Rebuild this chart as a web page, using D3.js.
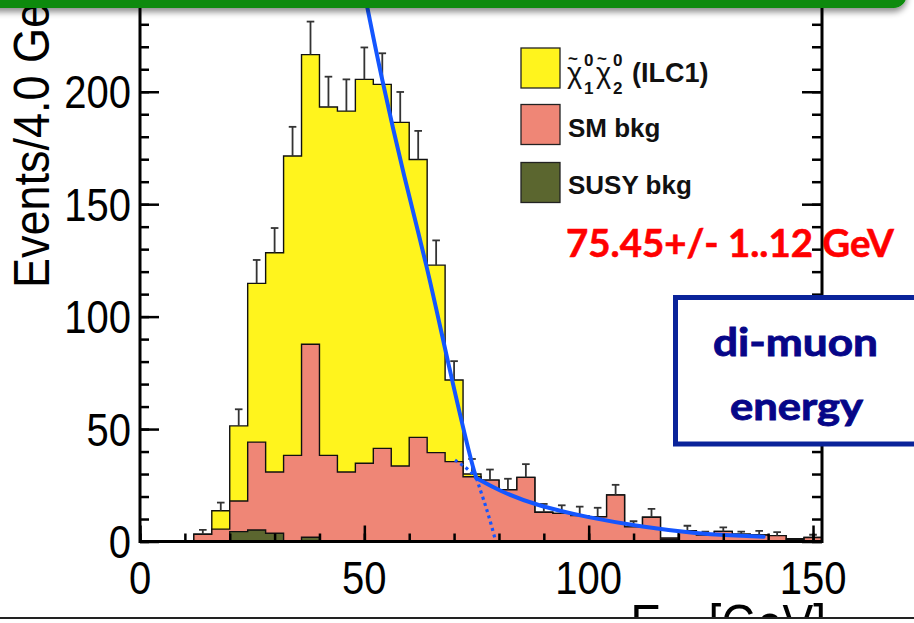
<!DOCTYPE html>
<html><head><meta charset="utf-8">
<script src="https://cdn.jsdelivr.net/npm/d3@7/dist/d3.min.js"></script>
<style>html,body{margin:0;padding:0;background:#fff;overflow:hidden}</style>
</head><body>
<svg id="c" width="914" height="623"></svg>
<script>
// ---------------- data ----------------
const binLow = [0,4,8,12,16,20,24,28,32,36,40,44,48,52,56,60,64,68,72,76,80,84,88,92,96,100,104,108,112,116,120,124,128,132,136,140,144,148];
const binWidth = 4;
const signal = [0,0,0,0,8.2,33.4,70.6,97.5,133.1,128.8,154.9,160.5,170.7,161.9,152.8,123.6,83.4,36.3,1.2,0,0,0,0,0,0,0,0,0,0,0,0,0,0,0,0,0,0,0];
const smBkg  = [0,0,0,3.2,5.5,13.6,39.1,27.2,38.3,85.8,38.3,30.9,34.8,41.4,33.6,46.3,39.5,35.5,28.8,27.3,23.0,28.5,13.0,12.5,11.5,11.0,20.7,6.5,10.8,0.5,4.8,2.9,4.5,3.2,2.9,2.6,0.2,1.8];
const susyBkg= [0,0,0,0,0,4.4,5.1,3.7,0,1.9,0,0,0,0,0,0,0,0,0,0,0,0,0,0,0,0,0,0,0,1.0,0,0,0,0,0,0,1.0,0];
const errUp  = [0,0,0,2.0,3.6,7.4,10.4,11.0,13.0,14.7,13.5,14.1,14.2,13.8,13.5,12.7,11.0,8.4,6.7,4.7,4.9,5.9,3.7,3.6,4.0,4.0,4.5,2.5,3.7,0,2.2,1.5,1.8,1.2,1.8,1.6,0,1.2];
// fit curve: [E, events]
const fitEdge    = [[50.2,242],[50.8,236.3],[53.45,209.6],[59.0,160.7],[63.85,123.7],[68.66,79.2],[73.87,34.8],[75.0,28.1]];
const fitTail    = [[75.0,28.1],[80,22.6],[88,16.2],[100,10.6],[112,6.5],[124,3.6],[131.5,2.7],[139,2.1]];
const fitEdgeExt = [[75.0,28.1],[76.1,21.4],[77.2,14.8],[78.2,8.1],[79.1,1.4],[79.3,0]];
const fitTailExt = [[70.2,36.2],[72.6,33.0],[74.6,29.3],[75.0,28.1]];
const xMajor = [0,50,100,150];
const xMinor = [0,10,20,30,40,50,60,70,80,90,100,110,120,130,140,150];
const yMajor = [0,50,100,150,200];
const yMinor = [0,10,20,30,40,50,60,70,80,90,100,110,120,130,140,150,160,170,180,190,200,210,220,230,240];
const legendLabels = ["SM bkg","SUSY bkg"];
const yTitle = "Events/4.0 GeV";
const resultText = "75.45+/- 1..12 GeV";
const boxLines = ["di-muon","energy"];

// ---------------- drawing ----------------
const svg = d3.select("#c");
const x = d3.scaleLinear().domain([0,152]).range([140,822]);
const y = d3.scaleLinear().domain([0,240.8]).range([541.5,0]);
const COL = {sig:"#fff41d", sm:"#ef8676", susy:"#5b662f"};

const defs = svg.append("defs");
defs.append("clipPath").attr("id","plot").append("rect")
  .attr("x",140).attr("y",0).attr("width",682).attr("height",541.5);
const f = defs.append("filter").attr("id","sh").attr("x","-5%").attr("y","-50%").attr("width","110%").attr("height","250%");
f.append("feDropShadow").attr("dx",0).attr("dy",4).attr("stdDeviation",3).attr("flood-color","#000").attr("flood-opacity",0.45);

const rows = binLow.map((lo,i)=>({lo, susy:susyBkg[i], sm:smBkg[i], sig:signal[i]}));
const stack = d3.stack().keys(["susy","sm","sig"])(rows);

function stepPts(layer){
  const last = binLow[binLow.length-1] + binWidth;
  const pts = [{e:binLow[0], v:0}];
  layer.forEach((d,i)=>pts.push({e:binLow[i], v:d[1]}));
  pts.push({e:last, v:layer[layer.length-1][1]});
  pts.push({e:last, v:0});
  return pts;
}
const area = d3.area().x(d=>x(d.e)).y0(y(0)).y1(d=>y(d.v)).curve(d3.curveStepAfter);
const line = d3.line().x(d=>x(d.e)).y(d=>y(d.v)).curve(d3.curveStepAfter);

const gp = svg.append("g").attr("clip-path","url(#plot)");
[[2,COL.sig],[1,COL.sm],[0,COL.susy]].forEach(([k,c])=>{
  const pts = stepPts(stack[k]);
  gp.append("path").attr("d",area(pts)).attr("fill",c);
  gp.append("path").attr("d",line(pts)).attr("fill","none").attr("stroke","#111").attr("stroke-width",1.4);
});

// error bars
const tot = stack[2];
binLow.forEach((lo,i)=>{
  if(!errUp[i]) return;
  const cx = x(lo + binWidth/2), t = tot[i][1];
  gp.append("line").attr("x1",cx).attr("x2",cx).attr("y1",y(t)).attr("y2",y(t+errUp[i]))
    .attr("stroke","#333").attr("stroke-width",1.8);
  gp.append("line").attr("x1",cx-3.8).attr("x2",cx+3.8).attr("y1",y(t+errUp[i])).attr("y2",y(t+errUp[i]))
    .attr("stroke","#333").attr("stroke-width",1.8);
});

// fit
const fl = d3.line().x(d=>x(d[0])).y(d=>y(d[1])).curve(d3.curveBasis);
const BLUE = "#1456ff";
[fitEdgeExt, fitTailExt].forEach(p=>gp.append("path").attr("d",fl(p)).attr("fill","none")
  .attr("stroke",BLUE).attr("stroke-width",3.2).attr("stroke-dasharray","3,3.5"));
[fitEdge, fitTail].forEach(p=>gp.append("path").attr("d",fl(p)).attr("fill","none")
  .attr("stroke",BLUE).attr("stroke-width",4).attr("stroke-linecap","round"));

// axes
function styleAxis(g){ g.select(".domain").remove(); g.selectAll("text").remove();
  g.selectAll("line").attr("stroke","#000").attr("stroke-width",2.5); }
svg.append("g").attr("transform","translate(140,0)").call(d3.axisLeft(y).tickValues(yMinor).tickSize(-9)).call(styleAxis);
svg.append("g").attr("transform","translate(140,0)").call(d3.axisLeft(y).tickValues(yMajor).tickSize(-19)).call(styleAxis);
svg.append("g").attr("transform","translate(822,0)").call(d3.axisRight(y).tickValues(yMinor).tickSize(-10)).call(styleAxis);
svg.append("g").attr("transform","translate(822,0)").call(d3.axisRight(y).tickValues(yMajor).tickSize(-20)).call(styleAxis);
svg.append("g").attr("transform","translate(0,541.5)").call(d3.axisBottom(x).tickValues(xMinor).tickSize(-8)).call(styleAxis);
svg.append("g").attr("transform","translate(0,541.5)").call(d3.axisBottom(x).tickValues(xMajor).tickSize(-16)).call(styleAxis);
svg.append("path").attr("d",`M140,-5V${y(0)}H822V-5`).attr("fill","none").attr("stroke","#000").attr("stroke-width",3);

const FONT = "'Liberation Sans', Arial, Helvetica, sans-serif";
// y tick labels
yMajor.forEach(v=>{
  svg.append("g").attr("transform",`translate(131,${y(v)+16.6}) scale(1,1.16)`)
    .append("text").attr("text-anchor","end").attr("font-family",FONT).attr("font-size",40).attr("fill","#000").text(v);
});
xMajor.forEach(v=>{
  svg.append("g").attr("transform",`translate(${x(v)},594) scale(1,1.16)`)
    .append("text").attr("text-anchor","middle").attr("font-family",FONT).attr("font-size",40).attr("fill","#000").text(v);
});
// y title
svg.append("g").attr("transform","translate(49,288) rotate(-90) scale(1,1.1)")
  .append("text").attr("font-family",FONT).attr("font-size",45).attr("fill","#000").text(yTitle);
// x title (mostly cut off)
const xt = svg.append("g").attr("transform","translate(826,642) scale(1,1.16)")
  .append("text").attr("text-anchor","end").attr("font-family",FONT).attr("font-size",46).attr("fill","#000");
xt.append("tspan").text("E");
xt.append("tspan").attr("font-size",30).attr("dy",10).text("μμ");
xt.append("tspan").attr("dy",-10).text(" [GeV]");

// legend
const legBoxes = [[48,COL.sig],[104.5,COL.sm],[162.5,COL.susy]];
legBoxes.forEach(([yy,c])=>svg.append("rect").attr("x",521).attr("y",yy).attr("width",39).attr("height",40)
  .attr("fill",c).attr("stroke","#222").attr("stroke-width",1.3));
svg.append("text").attr("x",568).attr("y",137).attr("font-family",FONT).attr("font-weight","bold").attr("font-size",26).attr("fill","#111").text(legendLabels[0]);
svg.append("text").attr("x",568).attr("y",194).attr("font-family",FONT).attr("font-weight","bold").attr("font-size",26).attr("fill","#111").text(legendLabels[1]);
const sigG = svg.append("g").attr("font-family",FONT).attr("fill","#111");
[[567,"1"],[596,"2"]].forEach(([xx,sub])=>{
  sigG.append("text").attr("x",xx).attr("y",83).attr("font-size",29).text("χ");
  sigG.append("text").attr("x",xx+1).attr("y",64).attr("font-size",17).attr("font-weight","bold").text("~");
  sigG.append("text").attr("x",xx+17).attr("y",66).attr("font-size",17).attr("font-weight","bold").text("0");
  sigG.append("text").attr("x",xx+17).attr("y",94).attr("font-size",17).attr("font-weight","bold").text(sub);
});
sigG.append("text").attr("x",632).attr("y",82).attr("font-size",27).attr("font-weight","bold").text("(ILC1)");

// result text
svg.append("text").attr("x",566).attr("y",257).attr("font-family","Lato, 'Open Sans', sans-serif").attr("font-weight","bold")
  .attr("font-size",39).attr("fill","#ff0000").attr("stroke","#ff0000").attr("stroke-width",0.6)
  .attr("textLength",328).attr("lengthAdjust","spacingAndGlyphs").text(resultText);

// di-muon box
svg.append("rect").attr("x",675.5).attr("y",297.5).attr("width",260).attr("height",146.5)
  .attr("fill","#fff").attr("stroke","#0a239a").attr("stroke-width",5);
[[713,356,165],[730,420,133]].forEach(([xx,yy,w],i)=>{
  svg.append("text").attr("x",xx).attr("y",yy).attr("font-family","Lato, 'Open Sans', sans-serif").attr("font-weight","bold")
    .attr("font-size",39).attr("fill","#060688").attr("stroke","#060688").attr("stroke-width",0.9)
    .attr("textLength",w).attr("lengthAdjust","spacingAndGlyphs").text(boxLines[i]);
});

// top banner
svg.append("rect").attr("x",-30).attr("y",-40).attr("width",937).attr("height",48).attr("rx",14)
  .attr("fill","#078a07").attr("filter","url(#sh)");
// bottom cut
svg.append("rect").attr("x",0).attr("y",618).attr("width",914).attr("height",10).attr("fill","#fff");
svg.append("line").attr("x1",0).attr("x2",914).attr("y1",618).attr("y2",618).attr("stroke","#222").attr("stroke-width",2);
</script>
</body></html>
